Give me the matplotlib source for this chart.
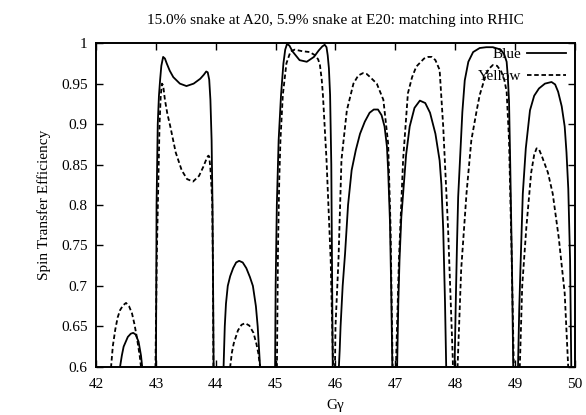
import numpy as np
import matplotlib.pyplot as plt

nan = np.nan

# Blue ring: Gγ and spin transfer efficiency, lobes separated by nan
blue_gg = [42.38, 42.40, 42.43, 42.46, 42.53, 42.58, 42.62, 42.66, 42.71, 42.75, 42.77, 42.78, nan,
           43.00, 43.005, 43.01, 43.03, 43.05, 43.07, 43.09, 43.12, 43.15, 43.18, 43.23, 43.29, 43.40, 43.51, 43.63, 43.74, 43.80, 43.84, 43.865, 43.89, 43.91, 43.93, 43.945, 43.955, 43.965, nan,
           44.12, 44.13, 44.15, 44.17, 44.20, 44.24, 44.29, 44.34, 44.39, 44.45, 44.51, 44.57, 44.62, 44.67, 44.70, 44.74, 44.75, nan,
           44.99, 45.00, 45.02, 45.05, 45.09, 45.13, 45.16, 45.19, 45.23, 45.28, 45.40, 45.52, 45.64, 45.72, 45.78, 45.82, 45.85, 45.87, 45.89, 45.91, 45.93, 45.945, 45.955, nan,
           46.05, 46.07, 46.085, 46.12, 46.16, 46.21, 46.27, 46.34, 46.41, 46.49, 46.57, 46.64, 46.71, 46.77, 46.82, 46.86, 46.88, 46.91, 46.93, 46.95, 46.955, nan,
           47.02, 47.03, 47.05, 47.07, 47.10, 47.13, 47.18, 47.24, 47.32, 47.41, 47.50, 47.58, 47.67, 47.74, 47.77, 47.80, 47.83, 47.85, 47.855, nan,
           47.98, 47.99, 48.01, 48.03, 48.05, 48.08, 48.12, 48.16, 48.22, 48.30, 48.41, 48.52, 48.63, 48.72, 48.77, 48.82, 48.86, 48.88, 48.90, 48.92, 48.95, 48.97, 48.975, nan,
           49.04, 49.05, 49.07, 49.09, 49.13, 49.18, 49.25, 49.32, 49.40, 49.50, 49.61, 49.67, 49.72, 49.78, 49.83, 49.86, 49.89, 49.92, 49.94, 49.945]
blue_eff = [0.59, 0.60, 0.614, 0.625, 0.637, 0.641, 0.642, 0.640, 0.631, 0.614, 0.60, 0.59, nan,
            0.59, 0.70, 0.80, 0.90, 0.935, 0.955, 0.972, 0.983, 0.981, 0.975, 0.966, 0.958, 0.950, 0.947, 0.950, 0.956, 0.961, 0.965, 0.964, 0.955, 0.93, 0.88, 0.80, 0.70, 0.59, nan,
            0.59, 0.60, 0.65, 0.678, 0.70, 0.712, 0.722, 0.729, 0.731, 0.729, 0.722, 0.711, 0.70, 0.675, 0.65, 0.60, 0.59, nan,
            0.59, 0.70, 0.80, 0.88, 0.936, 0.975, 0.992, 0.999, 0.997, 0.99, 0.979, 0.977, 0.983, 0.991, 0.996, 0.998, 0.995, 0.985, 0.969, 0.936, 0.85, 0.70, 0.59, nan,
            0.59, 0.62, 0.65, 0.70, 0.74, 0.80, 0.843, 0.868, 0.888, 0.903, 0.914, 0.918, 0.918, 0.911, 0.897, 0.872, 0.843, 0.78, 0.70, 0.60, 0.59, nan,
            0.59, 0.60, 0.68, 0.732, 0.785, 0.814, 0.862, 0.897, 0.92, 0.929, 0.926, 0.914, 0.888, 0.855, 0.825, 0.77, 0.68, 0.60, 0.59, nan,
            0.59, 0.60, 0.68, 0.75, 0.81, 0.855, 0.915, 0.954, 0.977, 0.989, 0.994, 0.995, 0.995, 0.993, 0.991, 0.986, 0.977, 0.958, 0.928, 0.85, 0.72, 0.60, 0.59, nan,
            0.59, 0.60, 0.67, 0.72, 0.814, 0.87, 0.917, 0.935, 0.944, 0.95, 0.952, 0.949, 0.94, 0.922, 0.897, 0.865, 0.82, 0.732, 0.60, 0.59]

# Yellow ring
yellow_gg = [42.24, 42.25, 42.28, 42.32, 42.36, 42.40, 42.45, 42.50, 42.55, 42.60, 42.64, 42.68, 42.73, 42.75, 42.76, nan,
             42.99, 43.00, 43.015, 43.03, 43.06, 43.08, 43.10, 43.12, 43.15, 43.19, 43.24, 43.33, 43.43, 43.52, 43.62, 43.72, 43.79, 43.85, 43.875, 43.89, 43.91, 43.925, 43.94, 43.955, 43.96, nan,
             44.23, 44.24, 44.27, 44.30, 44.37, 44.43, 44.49, 44.56, 44.63, 44.68, 44.71, 44.74, 44.745, nan,
             45.02, 45.04, 45.06, 45.08, 45.12, 45.18, 45.25, 45.32, 45.45, 45.57, 45.66, 45.71, 45.74, 45.77, 45.79, 45.85, 45.92, 45.96, 45.965, nan,
             45.99, 46.00, 46.05, 46.10, 46.19, 46.30, 46.38, 46.46, 46.52, 46.58, 46.69, 46.80, 46.88, 46.92, 46.955, 46.96, nan,
             47.00, 47.01, 47.06, 47.13, 47.21, 47.28, 47.35, 47.48, 47.55, 47.61, 47.67, 47.74, 47.80, 47.88, 47.96, 47.965, nan,
             48.03, 48.04, 48.10, 48.19, 48.27, 48.36, 48.41, 48.50, 48.56, 48.63, 48.70, 48.77, 48.82, 48.86, 48.90, 48.94, 48.98, 48.985, nan,
             49.07, 49.08, 49.12, 49.19, 49.27, 49.32, 49.36, 49.40, 49.45, 49.55, 49.63, 49.73, 49.83, 49.87, 49.89, 49.895]
yellow_eff = [0.59, 0.60, 0.626, 0.646, 0.661, 0.670, 0.676, 0.679, 0.675, 0.666, 0.653, 0.637, 0.613, 0.60, 0.59, nan,
              0.59, 0.65, 0.74, 0.794, 0.90, 0.935, 0.950, 0.948, 0.93, 0.913, 0.897, 0.865, 0.843, 0.832, 0.829, 0.836, 0.847, 0.858, 0.861, 0.86, 0.845, 0.825, 0.806, 0.70, 0.59, nan,
              0.59, 0.60, 0.618, 0.629, 0.645, 0.652, 0.654, 0.651, 0.642, 0.628, 0.617, 0.60, 0.59, nan,
              0.59, 0.75, 0.83, 0.88, 0.936, 0.975, 0.99, 0.992, 0.99, 0.989, 0.985, 0.98, 0.973, 0.955, 0.936, 0.856, 0.732, 0.60, 0.59, nan,
              0.59, 0.65, 0.732, 0.856, 0.917, 0.95, 0.96, 0.963, 0.962, 0.958, 0.95, 0.93, 0.876, 0.773, 0.60, 0.59, nan,
              0.59, 0.60, 0.732, 0.856, 0.938, 0.958, 0.971, 0.981, 0.983, 0.983, 0.979, 0.967, 0.897, 0.773, 0.61, 0.59, nan,
              0.59, 0.60, 0.72, 0.815, 0.88, 0.917, 0.936, 0.958, 0.968, 0.973, 0.972, 0.965, 0.955, 0.94, 0.88, 0.75, 0.60, 0.59, nan,
              0.59, 0.60, 0.70, 0.773, 0.84, 0.862, 0.87, 0.869, 0.86, 0.84, 0.814, 0.76, 0.691, 0.63, 0.60, 0.59]

x_ticks = [42, 43, 44, 45, 46, 47, 48, 49, 50]
y_ticks = [0.6, 0.65, 0.7, 0.75, 0.8, 0.85, 0.9, 0.95, 1.0]
y_labels = ['0.6', '0.65', '0.7', '0.75', '0.8', '0.85', '0.9', '0.95', '1']

plt.rcParams['font.family'] = ['Liberation Serif', 'DejaVu Serif']
plt.rcParams['font.size'] = 11

fig = plt.figure(figsize=(5.86, 4.15), dpi=100)
ax = fig.add_axes([0.164, 0.116, 0.817, 0.780])

ax.plot(blue_gg, blue_eff, 'k-', lw=1.3, label='Blue')
ax.plot(yellow_gg, yellow_eff, color='k', ls=(0, (2.5, 1.5)), lw=1.3, label='Yellow')

ax.set_xlim(42, 50)
ax.set_ylim(0.6, 1.0)
ax.set_xticks(x_ticks)
ax.set_yticks(y_ticks)
ax.set_yticklabels(y_labels)
ax.tick_params(direction='in', top=True, right=True, length=5, width=1.0, labelsize=11)
ax.tick_params(axis='x', pad=8)
ax.tick_params(axis='y', pad=6)
for s in ax.spines.values():
    s.set_linewidth(1.4)

ax.set_title('15.0% snake at A20, 5.9% snake at E20: matching into RHIC', fontsize=11, pad=14)
ax.set_xlabel('Gγ', fontsize=11, labelpad=6)
ax.set_ylabel('Spin Transfer Efficiency', fontsize=11, labelpad=7)

ax.legend(loc='upper right', bbox_to_anchor=(0.995, 1.005), frameon=False, markerfirst=False,
          handlelength=2.6, borderaxespad=0.0, labelspacing=0.55, handletextpad=0.35, fontsize=11)

plt.savefig('out.png')
